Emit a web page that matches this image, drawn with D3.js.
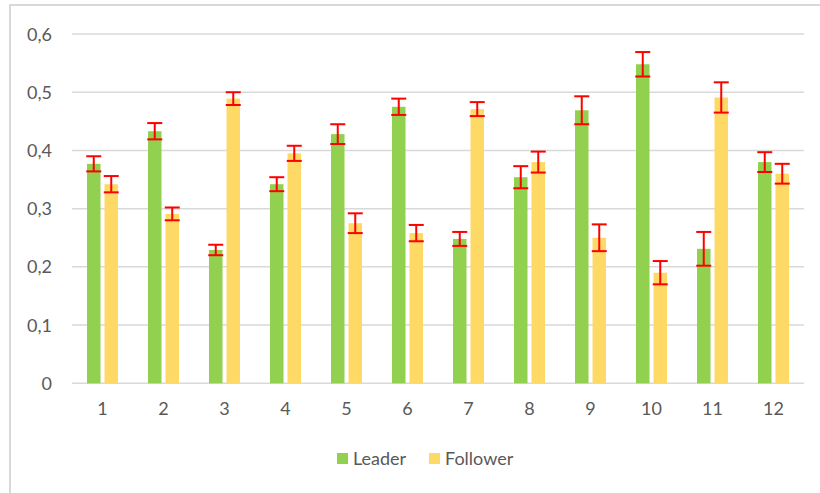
<!DOCTYPE html>
<html>
<head>
<meta charset="utf-8">
<script src="https://cdn.jsdelivr.net/npm/d3@7"></script>
<style>
  html, body { margin: 0; padding: 0; background: #fff; }
  svg { display: block; }
  text { font-family: Lato, "Open Sans", sans-serif; fill: #595959; }
</style>
</head>
<body>
<svg id="chart" width="820" height="493"></svg>
<script>
const categories = ["1","2","3","4","5","6","7","8","9","10","11","12"];
const seriesNames = ["Leader", "Follower"];
const leaderValues = [0.377, 0.433, 0.229, 0.342, 0.428, 0.475, 0.248, 0.354, 0.469, 0.548, 0.231, 0.380];
const leaderErrors = [0.013, 0.014, 0.009, 0.012, 0.017, 0.014, 0.012, 0.019, 0.024, 0.021, 0.029, 0.017];
const followerValues = [0.342, 0.291, 0.489, 0.395, 0.275, 0.258, 0.471, 0.380, 0.250, 0.190, 0.491, 0.360];
const followerErrors = [0.014, 0.011, 0.011, 0.013, 0.017, 0.014, 0.012, 0.018, 0.023, 0.020, 0.026, 0.017];
const yTicks = [0, 0.1, 0.2, 0.3, 0.4, 0.5, 0.6];
const colors = { Leader: "#92d050", Follower: "#ffd966" };

const svg = d3.select("#chart");

// outer frame
svg.append("rect").attr("x", 10).attr("y", 5).attr("width", 830).attr("height", 520)
  .attr("fill", "none").attr("stroke", "#d9d9d9").attr("stroke-width", 2);

const plot = { left: 72, right: 804, top: 34, bottom: 383.3 };

const y = d3.scaleLinear().domain([0, 0.6]).range([plot.bottom, plot.top]);
const x0 = d3.scaleBand().domain(categories).range([plot.left, plot.right]).paddingInner(0).paddingOuter(0);
const x1 = d3.scaleBand().domain(seriesNames).range([0, 31]).paddingInner(4 / 17.5).paddingOuter(0);
const groupOffset = (x0.bandwidth() - 31) / 2;

const locale = d3.formatLocale({ decimal: ",", thousands: ".", grouping: [3], currency: ["", ""] });
const fmt = v => v === 0 ? "0" : locale.format(".1f")(v);

// gridlines
svg.append("g").selectAll("line").data(yTicks).join("line")
  .attr("x1", plot.left).attr("x2", plot.right)
  .attr("y1", d => y(d)).attr("y2", d => y(d))
  .attr("stroke", "#d9d9d9").attr("stroke-width", 1.5);

// y labels
svg.append("g").selectAll("text").data(yTicks).join("text")
  .attr("x", 52).attr("y", d => y(d) + 2)
  .attr("text-anchor", "end").attr("dominant-baseline", "middle")
  .attr("font-size", 18).text(d => fmt(d));

// x labels
svg.append("g").selectAll("text").data(categories).join("text")
  .attr("x", d => x0(d) + x0.bandwidth() / 2).attr("y", 410)
  .attr("text-anchor", "middle").attr("dominant-baseline", "middle")
  .attr("font-size", 18).text(d => d);

const rows = [];
categories.forEach((c, i) => {
  rows.push({ cat: c, s: "Leader", v: leaderValues[i], e: leaderErrors[i] });
  rows.push({ cat: c, s: "Follower", v: followerValues[i], e: followerErrors[i] });
});
const bx = d => x0(d.cat) + groupOffset + x1(d.s);

// bars
svg.append("g").selectAll("rect").data(rows).join("rect")
  .attr("x", bx).attr("width", x1.bandwidth())
  .attr("y", d => y(d.v)).attr("height", d => y(0) - y(d.v))
  .attr("fill", d => colors[d.s]);

// error bars
const eg = svg.append("g").attr("stroke", "#ff0000").attr("stroke-width", 2);
const cx = d => bx(d) + x1.bandwidth() / 2;
eg.selectAll("line.v").data(rows).join("line").attr("class", "v")
  .attr("x1", cx).attr("x2", cx)
  .attr("y1", d => y(d.v + d.e)).attr("y2", d => y(d.v - d.e));
eg.selectAll("line.t").data(rows).join("line").attr("class", "t")
  .attr("x1", d => cx(d) - 7.5).attr("x2", d => cx(d) + 7.5)
  .attr("y1", d => y(d.v + d.e)).attr("y2", d => y(d.v + d.e));
eg.selectAll("line.b").data(rows).join("line").attr("class", "b")
  .attr("x1", d => cx(d) - 7.5).attr("x2", d => cx(d) + 7.5)
  .attr("y1", d => y(d.v - d.e)).attr("y2", d => y(d.v - d.e));

// legend
const legendItems = [
  { name: "Leader", x: 337 },
  { name: "Follower", x: 429 }
];
const lg = svg.append("g");
legendItems.forEach(it => {
  lg.append("rect").attr("x", it.x).attr("y", 453).attr("width", 11).attr("height", 11)
    .attr("fill", colors[it.name]);
  lg.append("text").attr("x", it.x + 16).attr("y", 460)
    .attr("dominant-baseline", "middle").attr("font-size", 18).text(it.name);
});
</script>
</body>
</html>
